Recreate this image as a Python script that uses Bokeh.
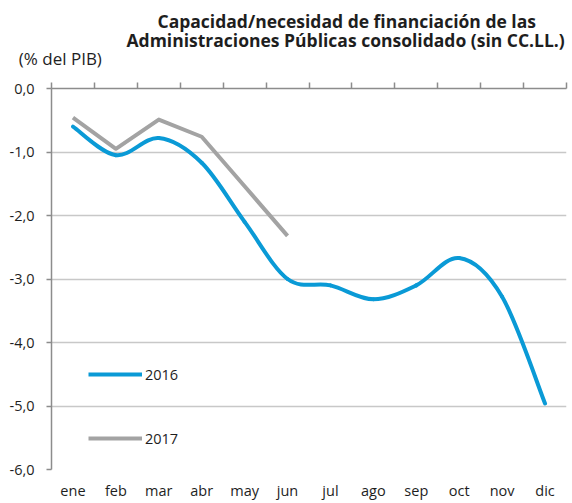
from bokeh.plotting import figure
from bokeh.models import (Range1d, FixedTicker, LinearAxis, Legend, LegendItem,
                          ColumnDataSource, Title)
from bokeh.embed import file_html
from bokeh.resources import INLINE

months = ["ene", "feb", "mar", "abr", "may", "jun", "jul", "ago", "sep", "oct", "nov", "dic"]
s2016 = [-0.60, -1.05, -0.78, -1.17, -2.10, -3.00, -3.10, -3.32, -3.10, -2.67, -3.28, -4.96]
s2017 = [-0.46, -0.95, -0.49, -0.76, -1.54, -2.32]
yticks = [0, -1, -2, -3, -4, -5, -6]
ytick_labels = ["0,0", "-1,0", "-2,0", "-3,0", "-4,0", "-5,0", "-6,0"]
title1 = "Capacidad/necesidad de financiación de las"
title2 = "Administraciones Públicas consolidado (sin CC.LL.)"
unit_text = "(% del PIB)"

BLUE = "#0a9ad6"
GRAY = "#a3a3a3"
AXIS = "#8c8c8c"
GRID = "#c8c8c8"
TXT = "#1e1e1e"
FONT = "Open Sans"

W, H = 568, 503
p = figure(width=W, height=H, output_backend="svg", toolbar_location=None,
           x_range=Range1d(0, 12), y_range=Range1d(-6, 0),
           x_axis_location=None, y_axis_location=None,
           min_border_left=51, min_border_right=2, min_border_top=88, min_border_bottom=34)
p.outline_line_color = None
p.xgrid.visible = False
p.ygrid.ticker = FixedTicker(ticks=[-1, -2, -3, -4, -5, -6])
p.ygrid.grid_line_color = GRID
p.ygrid.grid_line_width = 1.5

# y axis
yaxis = LinearAxis(ticker=FixedTicker(ticks=yticks),
                   major_label_overrides={t: l for t, l in zip(yticks, ytick_labels)})
yaxis.axis_line_color = AXIS
yaxis.axis_line_width = 1.5
yaxis.major_tick_line_color = AXIS
yaxis.major_tick_line_width = 1.5
yaxis.major_tick_out = 5
yaxis.major_tick_in = 0
yaxis.minor_tick_line_color = None
yaxis.major_label_text_font = FONT
yaxis.major_label_text_font_size = "14.5px"
yaxis.major_label_text_color = TXT
yaxis.major_label_standoff = 12
p.add_layout(yaxis, "left")

# top axis (category boundaries at y=0); its first tick carries the unit text
bounds = list(range(13))
overrides = {b: "" for b in bounds}
overrides[0] = "\u00a0\u00a0\u00a0\u00a0" + unit_text
taxis = LinearAxis(ticker=FixedTicker(ticks=bounds), major_label_overrides=overrides)
taxis.axis_line_color = AXIS
taxis.axis_line_width = 1.5
taxis.major_tick_line_color = AXIS
taxis.major_tick_line_width = 1.5
taxis.major_tick_out = 6
taxis.major_tick_in = 0
taxis.minor_tick_line_color = None
taxis.major_label_text_font = FONT
taxis.major_label_text_font_size = "17px"
taxis.major_label_text_color = TXT
taxis.major_label_standoff = 13
p.add_layout(taxis, "above")

# bottom axis with month labels
centers = [i + 0.5 for i in range(len(months))]
baxis = LinearAxis(ticker=FixedTicker(ticks=centers),
                   major_label_overrides={c: m for c, m in zip(centers, months)})
baxis.axis_line_color = None
baxis.major_tick_line_color = None
baxis.minor_tick_line_color = None
baxis.major_label_text_font = FONT
baxis.major_label_text_font_size = "14.5px"
baxis.major_label_text_color = TXT
baxis.major_label_standoff = 5
p.add_layout(baxis, "below")

# smoothed 2016 line (Catmull-Rom style bezier through the data points)
xs = centers
n = len(s2016)
x0, y0, x1, y1, cx0, cy0, cx1, cy1 = [], [], [], [], [], [], [], []
for i in range(n - 1):
    xa, ya = xs[i], s2016[i]
    xb, yb = xs[i + 1], s2016[i + 1]
    xp, yp = (xs[i - 1], s2016[i - 1]) if i > 0 else (xa, ya)
    xn, yn = (xs[i + 2], s2016[i + 2]) if i + 2 < n else (xb, yb)
    x0.append(xa); y0.append(ya); x1.append(xb); y1.append(yb)
    cx0.append(xa + (xb - xp) / 6); cy0.append(ya + (yb - yp) / 6)
    cx1.append(xb - (xn - xa) / 6); cy1.append(yb - (yn - ya) / 6)
bsrc = ColumnDataSource(dict(x0=x0, y0=y0, x1=x1, y1=y1, cx0=cx0, cy0=cy0, cx1=cx1, cy1=cy1))
p.bezier(x0="x0", y0="y0", x1="x1", y1="y1", cx0="cx0", cy0="cy0", cx1="cx1", cy1="cy1",
         source=bsrc, line_color=BLUE, line_width=4, line_cap="round")

r17 = p.line(centers[:len(s2017)], s2017, line_color=GRAY, line_width=4, line_join="round")
r16 = p.line(centers[:1], s2016[:1], line_color=BLUE, line_width=4)

legend = Legend(items=[LegendItem(label="2016", renderers=[r16]),
                       LegendItem(label="2017", renderers=[r17])],
                location=(37, 21), orientation="vertical",
                glyph_width=54, glyph_height=20, label_height=20, spacing=44,
                label_standoff=3, padding=0, margin=0,
                border_line_color=None, background_fill_alpha=0,
                label_text_font=FONT, label_text_font_size="14.5px", label_text_color=TXT)
p.add_layout(legend, "center")

t2 = Title(text=title2, align="left", offset=75, standoff=-17,
           text_font=FONT, text_font_style="bold", text_font_size="17.5px", text_color=TXT)
t1 = Title(text=title1, align="left", offset=106, standoff=4,
           text_font=FONT, text_font_style="bold", text_font_size="17.5px", text_color=TXT)
p.add_layout(t2, "above")
p.add_layout(t1, "above")

open("out.html", "w").write(file_html(p, INLINE))
